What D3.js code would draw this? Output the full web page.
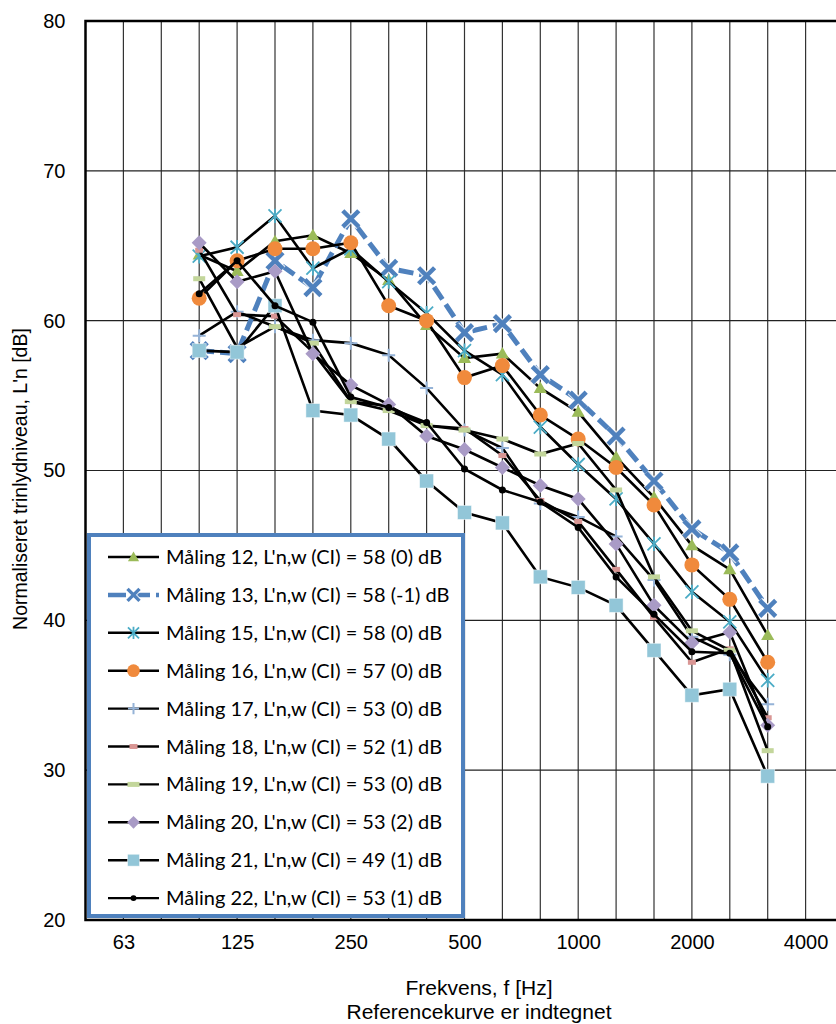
<!DOCTYPE html>
<html>
<head>
<meta charset="utf-8">
<script src="https://cdn.jsdelivr.net/npm/d3@7"></script>
<style>
  body { margin: 0; background: #fff; }
  svg { display: block; }
</style>
</head>
<body>
<div id="chart"></div>
<script>
// frequency bands on the category axis (1/3 octave)
const freqs = ["50", "63", "80", "100", "125", "160", "200", "250", "315", "400", "500",
  "630", "800", "1000", "1250", "1600", "2000", "2500", "3150", "4000", "5000"];
const bands = ["100", "125", "160", "200", "250", "315", "400", "500", "630", "800",
  "1000", "1250", "1600", "2000", "2500", "3150"];
const tickLabels = ["63", "125", "250", "500", "1000", "2000", "4000"];
const yTicks = [20, 30, 40, 50, 60, 70, 80];

const names = [
  "Måling 12, L'n,w (CI) = 58 (0) dB",
  "Måling 13, L'n,w (CI) = 58 (-1) dB",
  "Måling 15, L'n,w (CI) = 58 (0) dB",
  "Måling 16, L'n,w (CI) = 57 (0) dB",
  "Måling 17, L'n,w (CI) = 53 (0) dB",
  "Måling 18, L'n,w (CI) = 52 (1) dB",
  "Måling 19, L'n,w (CI) = 53 (0) dB",
  "Måling 20, L'n,w (CI) = 53 (2) dB",
  "Måling 21, L'n,w (CI) = 49 (1) dB",
  "Måling 22, L'n,w (CI) = 53 (1) dB"
];

const m12 = [64.4, 63.3, 65.3, 65.7, 64.5, 62.7, 59.7, 57.5, 57.8, 55.5, 53.9, 50.9, 48.2, 45.0, 43.4, 39.0];
const m13 = [58.0, 57.8, 64.0, 62.2, 66.8, 63.5, 63.0, 59.2, 59.8, 56.4, 54.7, 52.3, 49.3, 46.1, 44.5, 40.8];
const m15 = [64.3, 64.9, 67.0, 63.5, 64.8, 62.6, 60.5, 58.0, 56.4, 52.9, 50.4, 48.1, 45.1, 41.9, 39.9, 36.0];
const m16 = [61.5, 64.0, 64.8, 64.8, 65.2, 61.0, 60.0, 56.2, 57.0, 53.7, 52.1, 50.2, 47.7, 43.7, 41.4, 37.2];
const m17 = [59.0, 60.6, 59.6, 58.7, 58.5, 57.7, 55.5, 52.7, 51.5, 47.8, 46.9, 45.6, 42.7, 38.9, 37.7, 34.4];
const m18 = [64.7, 60.4, 60.3, 57.9, 54.6, 54.3, 53.0, 52.8, 51.0, 48.0, 46.6, 43.4, 40.2, 37.2, 38.1, 33.5];
const m19 = [62.8, 58.2, 59.6, 58.5, 54.6, 54.0, 53.0, 52.7, 52.1, 51.1, 51.8, 48.7, 42.9, 39.3, 38.0, 31.3];
const m20 = [65.2, 62.6, 63.3, 57.8, 55.7, 54.4, 52.3, 51.4, 50.2, 49.0, 48.1, 45.1, 41.0, 38.5, 39.2, 33.0];
const m21 = [58.0, 57.9, 61.0, 54.0, 53.7, 52.1, 49.3, 47.2, 46.5, 42.9, 42.2, 41.0, 38.0, 35.0, 35.4, 29.6];
const m22 = [61.8, 64.0, 61.0, 59.9, 54.9, 54.2, 53.2, 50.1, 48.7, 47.9, 46.2, 42.9, 40.4, 37.9, 37.8, 32.9];

const values = [m12, m13, m15, m16, m17, m18, m19, m20, m21, m22];
const markers = ["triangle", "x", "star", "circle", "plus", "dashS", "dashL", "diamond", "square", "dot"];
const colors = ["#9BBB59", "#4F81BD", "#4BACC6", "#F08A3C", "#95B3D7", "#D99694", "#C3D69B", "#A99BC6", "#92C6D8", "#000"];

const width = 836, height = 1024;
const margin = {top: 21, left: 86, bottom: 104};
const axisFont = "20px 'Liberation Sans', Arial, sans-serif";
const titleFont = "21px 'Liberation Sans', Arial, sans-serif";

const svg = d3.select("#chart").append("svg")
  .attr("width", width)
  .attr("height", height);

const x = d3.scalePoint()
  .domain(freqs)
  .range([85.5, 843.5]);

const y = d3.scaleLinear()
  .domain([20, 80])
  .range([height - margin.bottom, margin.top]);

// gridlines
svg.append("g")
  .selectAll("line")
  .data(freqs.slice(1))
  .join("line")
  .attr("x1", d => x(d)).attr("x2", d => x(d))
  .attr("y1", y(80)).attr("y2", y(20))
  .attr("stroke", "#333").attr("stroke-width", 1.2);

svg.append("g")
  .selectAll("line")
  .data(yTicks.slice(1, -1))
  .join("line")
  .attr("x1", x("50")).attr("x2", x("5000"))
  .attr("y1", d => y(d)).attr("y2", d => y(d))
  .attr("stroke", "#222").attr("stroke-width", 1.2);

// plot area border
svg.append("rect")
  .attr("x", x("50")).attr("y", y(80))
  .attr("width", x("5000") - x("50"))
  .attr("height", y(20) - y(80))
  .attr("fill", "none").attr("stroke", "#000").attr("stroke-width", 2.5);

// axes
const yAxis = g => g
  .attr("transform", `translate(${x("50")},0)`)
  .call(d3.axisLeft(y).tickValues(yTicks).tickSize(0).tickPadding(20))
  .call(g => g.select(".domain").remove())
  .call(g => g.selectAll("text").style("font", axisFont).attr("fill", "#000"));

const xAxis = g => g
  .attr("transform", `translate(0,${y(20)})`)
  .call(d3.axisBottom(x).tickValues(tickLabels).tickSize(0).tickPadding(15))
  .call(g => g.select(".domain").remove())
  .call(g => g.selectAll("text").style("font", axisFont).attr("fill", "#000"));

svg.append("g").call(yAxis);
svg.append("g").call(xAxis);

svg.append("text")
  .attr("transform", "translate(27,479) rotate(-90)")
  .attr("text-anchor", "middle")
  .style("font", "19.5px 'Liberation Sans', Arial, sans-serif")
  .text("Normaliseret trinlydniveau, L'n [dB]");

svg.append("text")
  .attr("x", 479).attr("y", 995)
  .attr("text-anchor", "middle")
  .style("font", titleFont)
  .text("Frekvens, f [Hz]");

svg.append("text")
  .attr("x", 479).attr("y", 1019)
  .attr("text-anchor", "middle")
  .style("font", titleFont)
  .text("Referencekurve er indtegnet");

// marker drawing
function drawMarker(g, type, color, cx, cy, scale) {
  const s = scale || 1;
  if (type === "triangle") {
    g.append("path").attr("d", d3.symbol(d3.symbolTriangle, 75 * s * s)())
      .attr("transform", `translate(${cx},${cy + 1})`).attr("fill", color);
  } else if (type === "circle") {
    g.append("circle").attr("cx", cx).attr("cy", cy).attr("r", 7.5 * s).attr("fill", color);
  } else if (type === "diamond") {
    const r = 7.5 * s;
    g.append("path").attr("d", `M${cx},${cy - r}L${cx + r},${cy}L${cx},${cy + r}L${cx - r},${cy}Z`)
      .attr("fill", color);
  } else if (type === "square") {
    const r = 7 * s;
    g.append("rect").attr("x", cx - r).attr("y", cy - r).attr("width", 2 * r).attr("height", 2 * r)
      .attr("fill", color).attr("stroke", "#fff").attr("stroke-opacity", 0.6).attr("stroke-width", 0.8);
  } else if (type === "dot") {
    g.append("circle").attr("cx", cx).attr("cy", cy).attr("r", 3.5 * s).attr("fill", color);
  } else if (type === "x") {
    const r = 8 * s;
    const d = `M${cx - r},${cy - r}L${cx + r},${cy + r}M${cx - r},${cy + r}L${cx + r},${cy - r}`;
    g.append("path").attr("d", d).attr("stroke", "#fff").attr("stroke-width", 7 * s).attr("stroke-opacity", 0.8);
    g.append("path").attr("d", d).attr("stroke", color).attr("stroke-width", 4.5 * s);
  } else if (type === "star") {
    const r = 6.5 * s;
    const d = `M${cx - r},${cy - r}L${cx + r},${cy + r}M${cx - r},${cy + r}L${cx + r},${cy - r}M${cx},${cy - r * 1.1}L${cx},${cy + r * 1.1}`;
    g.append("path").attr("d", d).attr("stroke", color).attr("stroke-width", 1.8);
  } else if (type === "plus") {
    const r = 6.5 * s;
    g.append("path").attr("d", `M${cx - r},${cy}L${cx + r},${cy}M${cx},${cy - r}L${cx},${cy + r}`)
      .attr("stroke", color).attr("stroke-width", 2);
  } else if (type === "dashS") {
    g.append("rect").attr("x", cx - 4).attr("y", cy - 2.5).attr("width", 8).attr("height", 5).attr("fill", color);
  } else if (type === "dashL") {
    g.append("rect").attr("x", cx - 6).attr("y", cy - 2.5).attr("width", 12).attr("height", 5).attr("fill", color);
  }
}

const line = d3.line()
  .x((d, i) => x(bands[i]))
  .y(d => y(d));

values.forEach((vals, k) => {
  const g = svg.append("g");
  if (k === 1) {
    g.append("path").datum(vals).attr("d", line)
      .attr("fill", "none").attr("stroke", colors[k]).attr("stroke-width", 5)
      .attr("stroke-dasharray", "15,6");
  } else {
    g.append("path").datum(vals).attr("d", line)
      .attr("fill", "none").attr("stroke", "#000").attr("stroke-width", 2.6);
  }
  vals.forEach((v, i) => drawMarker(g, markers[k], colors[k], x(bands[i]), y(v)));
});

// legend
const legend = svg.append("g");
legend.append("rect")
  .attr("x", 89).attr("y", 535)
  .attr("width", 374).attr("height", 381)
  .attr("fill", "#fff").attr("stroke", "#4F81BD").attr("stroke-width", 4);

names.forEach((name, k) => {
  const ly = 557 + k * 37.9;
  const g = legend.append("g");
  if (k === 1) {
    g.append("line").attr("x1", 108).attr("x2", 159).attr("y1", ly).attr("y2", ly)
      .attr("stroke", colors[k]).attr("stroke-width", 4.5).attr("stroke-dasharray", "18,6");
  } else {
    g.append("line").attr("x1", 108).attr("x2", 159).attr("y1", ly).attr("y2", ly)
      .attr("stroke", "#000").attr("stroke-width", 2.4);
  }
  drawMarker(g, markers[k], colors[k], 133.5, ly, k === 1 ? 0.75 : 0.85);
  g.append("text")
    .attr("x", 166).attr("y", ly + 7)
    .style("font", "20px Lato, 'Open Sans', sans-serif")
    .text(name);
});
</script>
</body>
</html>
